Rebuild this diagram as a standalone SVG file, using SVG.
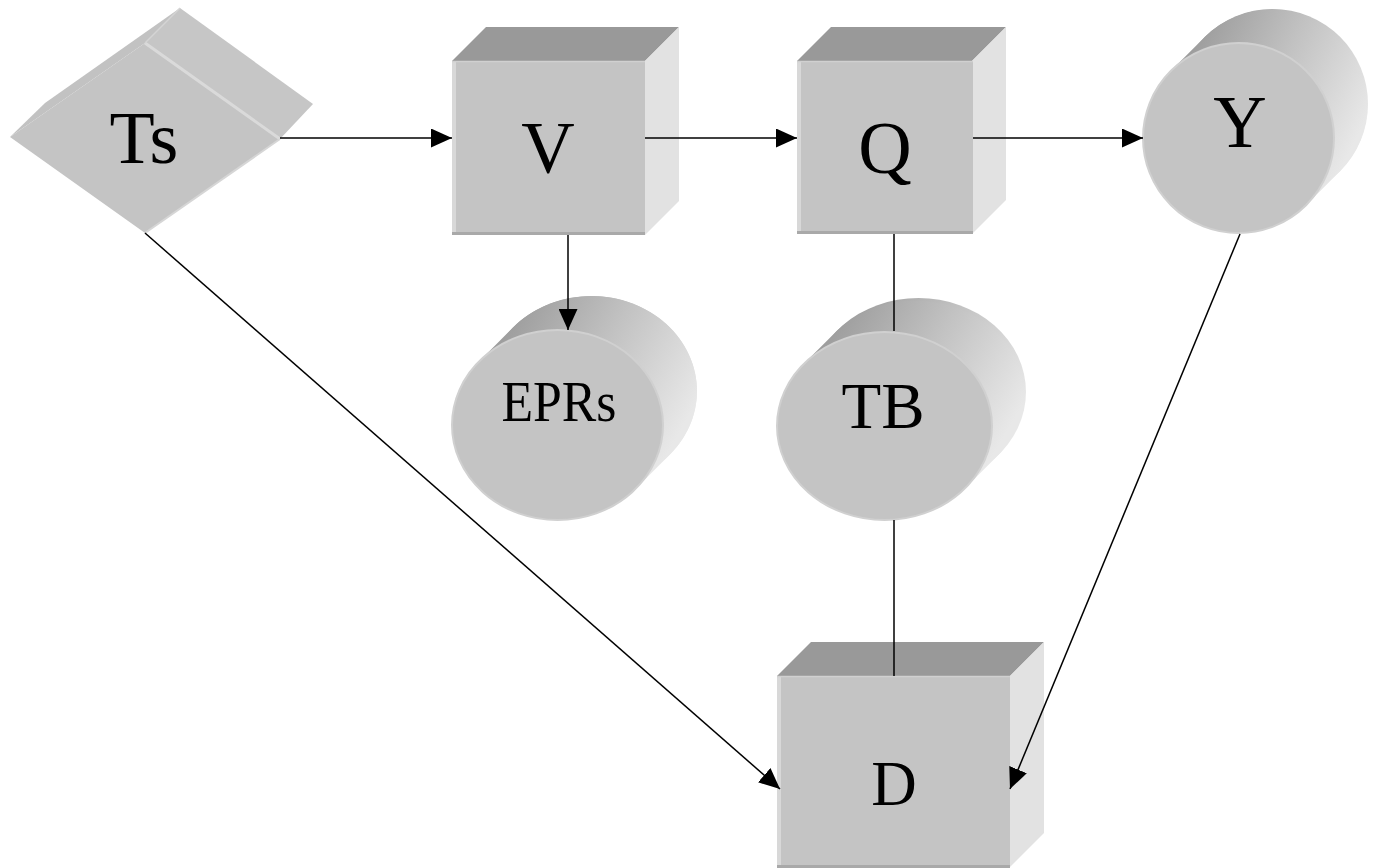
<svg xmlns="http://www.w3.org/2000/svg" width="1377" height="868" viewBox="0 0 1377 868">
<style>
.front{fill:#c4c4c4}
.top{fill:#999999}
.side{fill:#e2e2e2}
.lstrip{fill:#d8d8d8}
.bstrip{fill:#a9a9a9}
.tline{stroke:#d0d0d0;stroke-width:1.5;fill:none}
.face{fill:#c4c4c4;stroke:#d0d0d0;stroke-width:2}
.body{fill:url(#cyl)}
.lbl{font-family:"Liberation Serif","Times New Roman",serif;fill:#000;text-anchor:middle}
.con{stroke:#000;stroke-width:1.5;fill:none}
.arr{marker-end:url(#ah)}
</style>
<defs>
<linearGradient id="cyl" x1="0.1" y1="0.1" x2="1" y2="0.55">
<stop offset="0" stop-color="#999999"/>
<stop offset="0.5" stop-color="#c2c2c2"/>
<stop offset="1" stop-color="#e8e8e8"/>
</linearGradient>
<marker id="ah" markerUnits="userSpaceOnUse" markerWidth="21" markerHeight="19" refX="21" refY="9.5" orient="auto" viewBox="0 0 21 19">
<path d="M0,0 L21,9.5 L0,19 z" fill="#000"/>
</marker>
</defs>
<rect width="1377" height="868" fill="#fff"/>

<g id="node-Ts">
<polygon points="10,137 45,103 180,8 145,43" fill="#c2c2c2"/>
<polygon points="145,43 180,8 313,104 280,139" fill="#c6c6c6"/>
<polygon points="10,137 145,43 280,139 145,233" class="front"/>
<line x1="145" y1="43" x2="280" y2="139" stroke="#dadada" stroke-width="3"/>
<line x1="145" y1="43" x2="180" y2="8" stroke="#d4d4d4" stroke-width="1.5"/>
<line x1="145" y1="233" x2="280" y2="139" stroke="#d6d6d6" stroke-width="2"/>
<text x="144" y="163" font-size="74" class="lbl">Ts</text>
</g>

<g id="node-V">
<polygon points="452,61 486,27 679,27 645,61" class="top"/>
<polygon points="645,61 679,27 679,201 645,235" class="side"/>
<rect x="452" y="61" width="193" height="174" class="front"/>
<rect x="452" y="61" width="4" height="174" class="lstrip"/>
<rect x="452" y="232" width="193" height="3" class="bstrip"/>
<line x1="452" y1="61.5" x2="645" y2="61.5" class="tline"/>
<text x="548" y="173" font-size="74" class="lbl">V</text>
</g>

<g id="node-Q">
<polygon points="797,61 831,27 1006,27 972,61" class="top"/>
<polygon points="972,61 1006,27 1006,200 972,234" class="side"/>
<rect x="797" y="61" width="176" height="173" class="front"/>
<rect x="797" y="61" width="4" height="173" class="lstrip"/>
<rect x="797" y="231" width="176" height="3" class="bstrip"/>
<line x1="797" y1="61.5" x2="973" y2="61.5" class="tline"/>
<text x="885" y="173" font-size="74" class="lbl">Q</text>
</g>

<g id="node-Y">
<ellipse cx="1272.5" cy="104" rx="95.5" ry="95" class="body"/>
<path d="M1170.8,71 L1204.8,37 A95.5,95 0 0 1 1340.2,171 L1306.2,205 Z" class="body"/>
<ellipse cx="1238.5" cy="138" rx="95.5" ry="95" class="face"/>
<text x="1240" y="147" font-size="74" class="lbl">Y</text>
</g>

<g id="node-EPRs">
<ellipse cx="591.5" cy="391" rx="105.5" ry="95" class="body"/>
<path d="M479.1,361.4 L513.1,327.4 A105.5,95 0 0 1 669.9,454.6 L635.9,488.6 Z" class="body"/>
<ellipse cx="557.5" cy="425" rx="105.5" ry="95" class="face"/>
<text x="559" y="421" font-size="57" class="lbl" textLength="115" lengthAdjust="spacingAndGlyphs">EPRs</text>
</g>

<g id="node-TB">
<ellipse cx="918.5" cy="392" rx="107.5" ry="94" class="body"/>
<path d="M803.7,364.1 L837.7,330.1 A107.5,94 0 0 1 999.3,453.9 L965.3,487.9 Z" class="body"/>
<ellipse cx="884.5" cy="426" rx="107.5" ry="94" class="face"/>
<text x="883" y="428" font-size="65" class="lbl">TB</text>
</g>

<g id="node-D">
<polygon points="777,676 811,642 1044,642 1010,676" class="top"/>
<polygon points="1010,676 1044,642 1044,833 1010,867" class="side"/>
<rect x="777" y="676" width="233" height="191" class="front"/>
<rect x="777" y="676" width="4" height="191" class="lstrip"/>
<rect x="777" y="865" width="233" height="3" class="bstrip"/>
<line x1="777" y1="676.5" x2="1010" y2="676.5" class="tline"/>
<text x="894" y="805" font-size="63" class="lbl">D</text>
</g>

<g id="connectors">
<line x1="280" y1="138" x2="452" y2="138" class="con arr"/>
<line x1="645" y1="138" x2="797" y2="138" class="con arr"/>
<line x1="973" y1="138" x2="1143" y2="138" class="con arr"/>
<line x1="568" y1="235" x2="568" y2="330" class="con arr"/>
<line x1="894" y1="234" x2="894" y2="331" class="con"/>
<line x1="894" y1="520" x2="894" y2="676" class="con"/>
<line x1="145" y1="233" x2="780" y2="789" class="con arr"/>
<line x1="1240" y1="234" x2="1010" y2="789" class="con arr"/>
</g>
</svg>
